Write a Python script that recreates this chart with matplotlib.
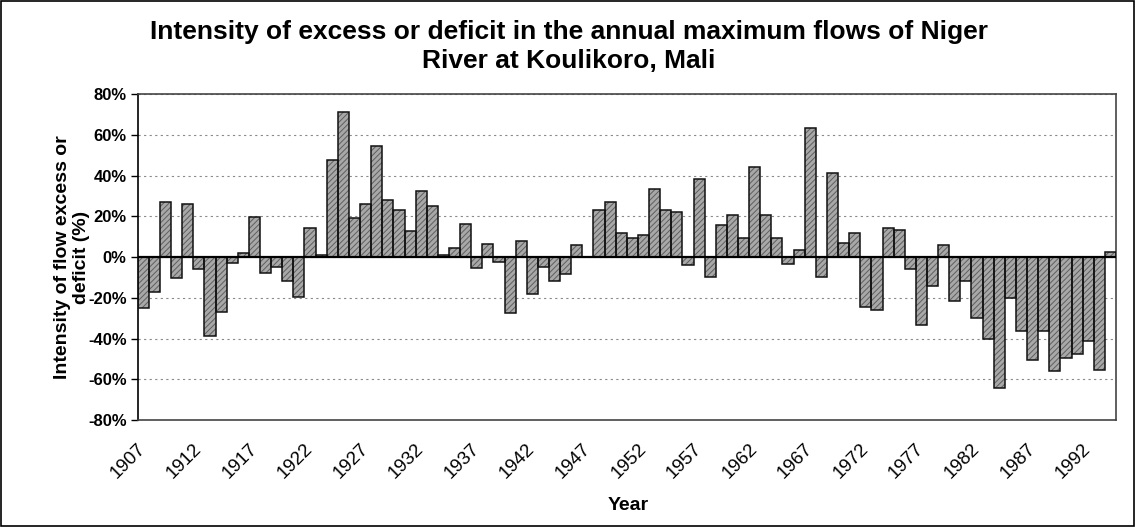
import matplotlib
matplotlib.use('Agg')
import matplotlib.pyplot as plt
from matplotlib.patches import Rectangle
import numpy as np

# ---- data ----
years = list(range(1907, 1995))
values = [
    -25, -17, 27, -10, 26, -6, -38.5, -27, -3, 2,           # 1907-1916
    19.5, -8, -5, -11.5, -19.5, 14.5, 1, 47.8, 71.4, 19.4,  # 1917-1926
    26, 54.6, 28.3, 23.3, 12.8, 32.3, 25.2, 1, 4.7, 16.1,   # 1927-1936
    -5.2, 6.7, -2.2, -27.4, 8, -18, -4.9, -11.5, -8.3, 6,   # 1937-1946
    0, 23.4, 27.3, 11.9, 9.6, 10.7, 33.3, 23.4, 22.3, -4.1, # 1947-1956
    38.3, -9.6, 15.6, 20.5, 9.6, 44.2, 20.5, 9.6, -3.3, 3.4,# 1957-1966
    63.4, -9.6, 41.3, 7, 11.9, -24.7, -25.8, 14.5, 13.3, -5.8,  # 1967-1976
    -33.3, -14, 5.9, -21.6, -11.5, -29.8, -40, -64.2, -20, -36.3,  # 1977-1986
    -50.6, -36.3, -55.9, -49.7, -47.6, -41.2, -55.2, 2.6,   # 1987-1994
]
tick_years = list(range(1907, 1995, 5))
y_ticks = [-80, -60, -40, -20, 0, 20, 40, 60, 80]

title_lines = ["Intensity of excess or deficit in the annual maximum flows of Niger",
               "River at Koulikoro, Mali"]
ylabel = "Intensity of flow excess or\ndeficit (%)"
xlabel = "Year"

plt.rcParams['font.family'] = ['Liberation Sans', 'DejaVu Sans']
plt.rcParams['hatch.linewidth'] = 0.7

fig = plt.figure(figsize=(11.35, 5.27), dpi=100)
ax = fig.add_axes([137.7 / 1135, 1 - 420 / 527, (1116 - 137.7) / 1135, (420 - 94.3) / 527])

x = np.arange(len(years))
ax.bar(x, values, width=1.0, color='#a8a8a8', edgecolor='#5e5e5e',
       hatch='//////', linewidth=0, zorder=2)
ax.bar(x, values, width=1.0, facecolor='none', edgecolor='#111111',
       linewidth=1.1, zorder=3)

ax.set_xlim(-0.5, len(years) - 0.5)
ax.set_ylim(-80, 80)
ax.set_yticks(y_ticks)
ax.set_yticklabels([f"{v}%" for v in y_ticks], fontsize=12, fontweight='bold')
ax.yaxis.grid(True, linestyle=(0, (2, 3)), color='#8a8a8a', linewidth=0.8, zorder=0)
ax.set_axisbelow(True)
ax.axhline(0, color='black', linewidth=1.6, zorder=4)

idx = [years.index(t) for t in tick_years]
ax.set_xticks(idx)
ax.set_xticklabels([str(t) for t in tick_years], fontsize=13.5, rotation=45,
                   ha='right', va='center', rotation_mode='anchor')
ax.tick_params(axis='x', length=0, pad=19)
ax.tick_params(axis='y', length=5, width=1, direction='out', color='black', pad=3)

for s in ['top', 'right', 'bottom']:
    ax.spines[s].set_color('#444444')
    ax.spines[s].set_linewidth(1.2)
ax.spines['left'].set_color('black')
ax.spines['left'].set_linewidth(1.2)

fig.text(569 / 1135, 1 - 32 / 527, title_lines[0], ha='center', va='center',
         fontsize=19, fontweight='bold')
fig.text(569 / 1135, 1 - 61 / 527, title_lines[1], ha='center', va='center',
         fontsize=19, fontweight='bold')
fig.text(72 / 1135, 1 - 257 / 527, ylabel, ha='center', va='center', rotation=90,
         fontsize=14, fontweight='bold', linespacing=1.2)
fig.text(628 / 1135, 1 - 506 / 527, xlabel, ha='center', va='center',
         fontsize=14, fontweight='bold')

fig.patches.append(Rectangle((0.001, 0.002), 0.998, 0.996, transform=fig.transFigure,
                             fill=False, edgecolor='black', linewidth=1.2))

fig.savefig('out.png', dpi=100)
